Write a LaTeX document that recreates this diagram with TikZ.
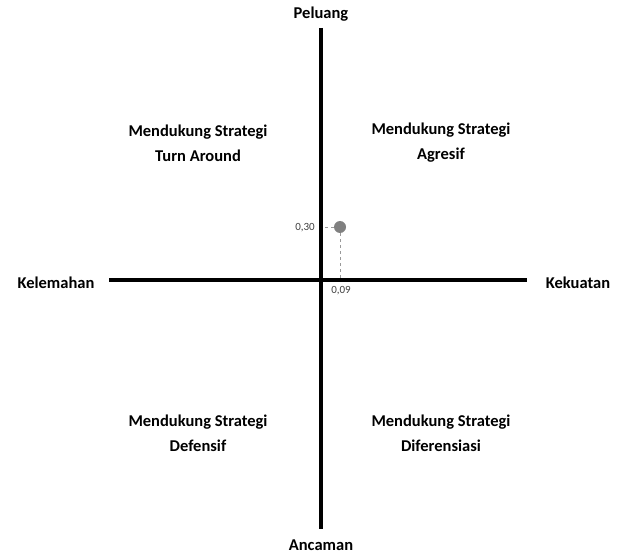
\documentclass[tikz,border=0pt]{standalone}
\usepackage{fontspec}
\setmainfont{Carlito}
\begin{document}
\begin{tikzpicture}[x=1pt,y=-1pt,
  axis/.style={line width=3.5pt},
  lbl/.style={font=\bfseries\fontsize{16.5}{19}\selectfont, align=center, inner sep=0pt},
  qlbl/.style={font=\bfseries\fontsize{16.5}{25}\selectfont, align=center, inner sep=0pt},
  small/.style={font=\fontsize{11}{12}\selectfont, text=black!75, inner sep=0pt},
  guide/.style={dashed, draw=black!40, line width=0.8pt}]
\useasboundingbox (0,0) rectangle (621,556);
\coordinate (top) at (321,28);
\coordinate (bot) at (321,529);
\coordinate (left) at (109,280);
\coordinate (right) at (527,280);
\draw[axis] (top) -- (bot);
\draw[axis] (left) -- (right);
\node[lbl] (peluang) at (321,14) {Peluang};
\node[lbl] (ancaman) at (321,545) {Ancaman};
\node[lbl] (kelemahan) at (56,283) {Kelemahan};
\node[lbl] (kekuatan) at (578,283) {Kekuatan};
\node[qlbl] (q1) at (198,143) {Mendukung Strategi\\Turn Around};
\node[qlbl] (q2) at (441,143) {Mendukung Strategi\\Agresif};
\node[qlbl] (q3) at (198,433) {Mendukung Strategi\\Defensif};
\node[qlbl] (q4) at (441,433) {Mendukung Strategi\\Diferensiasi};
\coordinate (py) at (322,227);
\coordinate (px) at (340,278);
\node[circle, fill=black!50, minimum size=12pt, inner sep=0pt] (pt) at (340,227) {};
\draw[guide] (pt) -- (py);
\draw[guide] (pt) -- (px);
\node[small, anchor=east] (l30) at (315,228) {0,30};
\node[small] (l09) at (341,291) {0,09};
\end{tikzpicture}
\end{document}
